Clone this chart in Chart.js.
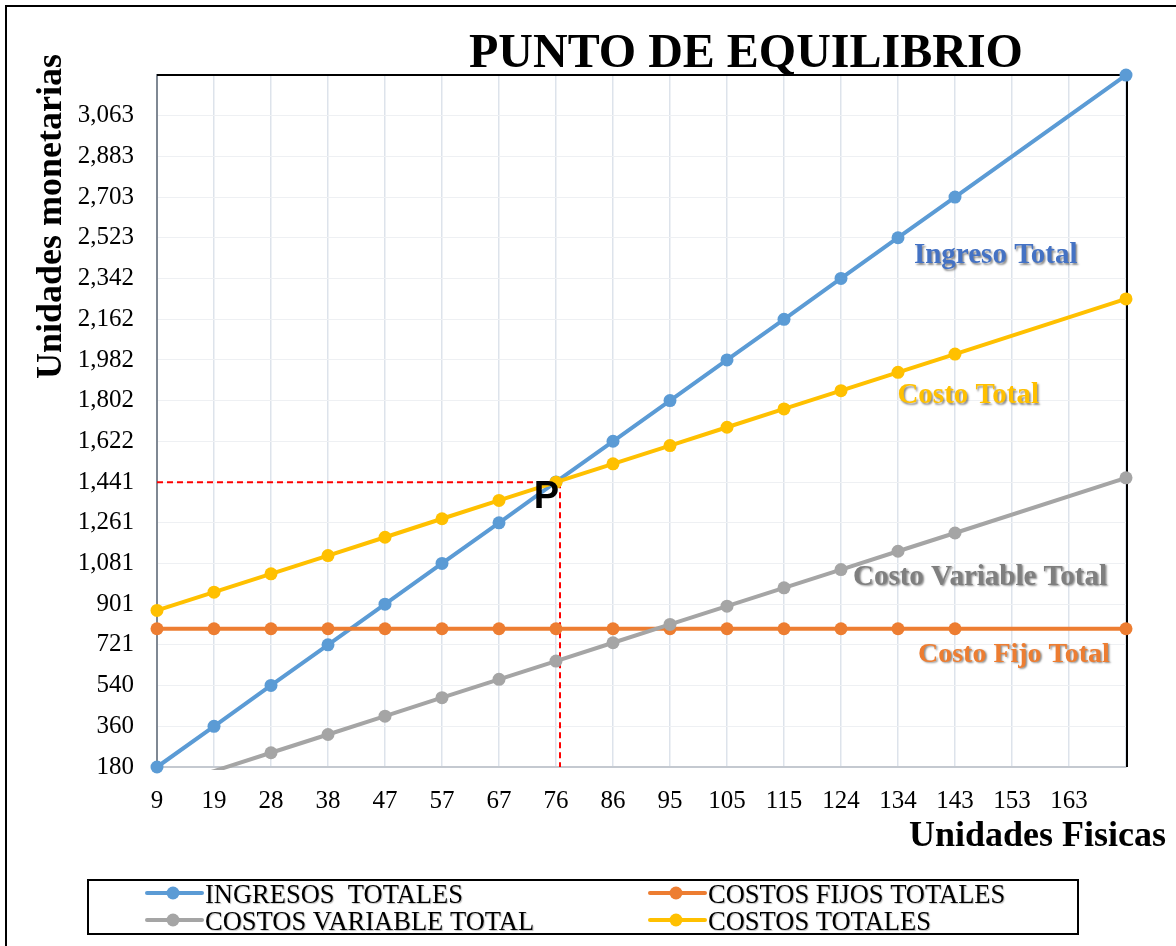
<!DOCTYPE html>
<html>
<head>
<meta charset="utf-8">
<script src="https://cdn.jsdelivr.net/npm/chart.js@4/dist/chart.umd.min.js"></script>
<style>
  html, body { margin: 0; padding: 0; background: #fff; }
  #wrap { position: relative; width: 1176px; height: 946px; overflow: hidden; background: #fff; }
  #frame { position: absolute; left: 5px; top: 5px; width: 1300px; height: 1100px;
           border-left: 2px solid #000; border-top: 2px solid #000; box-sizing: border-box; }
  canvas { position: absolute; left: 0; top: 0; }
</style>
</head>
<body>
<div id="wrap">
  <div id="frame"></div>
  <canvas id="c" width="1176" height="946"></canvas>
</div>
<script>
// ---------------- DATA ----------------
const categories = ['9','19','28','38','47','57','67','76','86','95','105','115','124','134','143','153','163','172'];
const ingresosTotales   = [180, 360, 541, 721, 901, 1081, 1261, 1442, 1622, 1802, 1982, 2162, 2343, 2523, 2703, null, null, 3243];
const costosFijos       = [792, 792, 792, 792, 792, 792, 792, 792, 792, 792, 792, 792, 792, 792, 792, null, null, 792];
const costosVariables   = [81, 162, 243, 324, 405, 487, 568, 649, 730, 811, 892, 973, 1054, 1135, 1216, null, null, 1460];
const costosTotales     = [873, 954, 1035, 1116, 1197, 1279, 1360, 1441, 1522, 1603, 1684, 1765, 1846, 1927, 2008, null, null, 2252];
const yTickLabels = ['180','360','540','721','901','1,081','1,261','1,441','1,622','1,802','1,982','2,162','2,342','2,523','2,703','2,883','3,063'];
const seriesNames = ['INGRESOS  TOTALES', 'COSTOS FIJOS TOTALES', 'COSTOS VARIABLE TOTAL', 'COSTOS TOTALES'];
const breakEvenIndex = 7;      // category "76"
const breakEvenValue = 1441;

// ---------------- AXIS CONFIG ----------------
const yAxisMin = 180, yAxisStep = 180.2, yAxisMax = 3243.4;

// ---------------- STYLE ----------------
const COLORS = { blue: '#5b9bd5', orange: '#ed7d31', gray: '#a5a5a5', yellow: '#ffc000' };
const SERIF = '"Liberation Serif", "Times New Roman", serif';

const annotations = [
  { text: 'Ingreso Total',        color: '#4472c4', idx: 13.28, val: 2411, size: 29 },
  { text: 'Costo Total',          color: '#ffc000', idx: 12.99, val: 1791, size: 29 },
  { text: 'Costo Variable Total', color: '#7f7f7f', idx: 12.21, val: 986,  size: 29 },
  { text: 'Costo Fijo Total',     color: '#ed7d31', idx: 13.35, val: 645,  size: 28 }
];

function mkDataset(label, data, color, order, clip) {
  return {
    label, data, order,
    borderColor: color, backgroundColor: color,
    pointBackgroundColor: color, pointBorderColor: color,
    borderWidth: 4, pointBorderWidth: 0,
    pointRadius: (ctx) => (ctx.raw != null && ctx.raw < yAxisMin) ? 0 : 6.5,
    tension: 0, spanGaps: true, clip
  };
}

const decor = {
  id: 'decor',
  beforeDatasetsDraw(chart) {
    const { ctx, chartArea: a, scales: { x, y } } = chart;
    ctx.save();
    // plot frame top & right
    ctx.strokeStyle = '#000'; ctx.lineWidth = 2;
    ctx.beginPath();
    ctx.moveTo(a.left, a.top); ctx.lineTo(a.right + 1, a.top); ctx.lineTo(a.right + 1, a.bottom);
    ctx.stroke();
    // equilibrium dashed lines
    const px = x.getPixelForValue(breakEvenIndex) + 4;
    const py = y.getPixelForValue(breakEvenValue);
    ctx.strokeStyle = '#ff0000'; ctx.lineWidth = 2; ctx.setLineDash([6, 4]);
    ctx.beginPath();
    ctx.moveTo(a.left, py); ctx.lineTo(px, py);
    ctx.moveTo(px, py); ctx.lineTo(px, a.bottom);
    ctx.stroke();
    ctx.restore();
  },
  afterDatasetsDraw(chart) {
    const { ctx, scales: { x, y } } = chart;
    ctx.save();
    // P label
    ctx.fillStyle = '#000';
    ctx.font = 'bold 38px "Liberation Sans", Arial, sans-serif';
    ctx.textAlign = 'right'; ctx.textBaseline = 'alphabetic';
    ctx.fillText('P', x.getPixelForValue(breakEvenIndex) + 3, y.getPixelForValue(breakEvenValue) + 26);
    // series annotations
    ctx.textAlign = 'left';
    annotations.forEach(an => {
      ctx.font = 'bold ' + an.size + 'px ' + SERIF;
      ctx.shadowColor = 'rgba(0,0,0,0.45)';
      ctx.shadowOffsetX = 1.5; ctx.shadowOffsetY = 1.5; ctx.shadowBlur = 2;
      ctx.fillStyle = an.color;
      ctx.fillText(an.text, x.getPixelForValue(an.idx), y.getPixelForValue(an.val));
    });
    ctx.restore();
  },
  afterDraw(chart) {
    const { ctx } = chart;
    ctx.save();
    ctx.fillStyle = '#000';
    // title
    ctx.font = 'bold 48px ' + SERIF;
    ctx.textAlign = 'left'; ctx.textBaseline = 'alphabetic';
    ctx.fillText('PUNTO DE EQUILIBRIO', 469, 67);
    // x axis title
    ctx.font = 'bold 36px ' + SERIF;
    ctx.textAlign = 'right';
    ctx.fillText('Unidades Fisicas', 1166, 846);
    // y axis title
    ctx.save();
    ctx.translate(61, 216.5);
    ctx.rotate(-Math.PI / 2);
    ctx.textAlign = 'center';
    ctx.fillText('Unidades monetarias', 0, 0);
    ctx.restore();
    // legend
    ctx.strokeStyle = '#000'; ctx.lineWidth = 2;
    ctx.strokeRect(88, 880, 990, 54);
    const ds = chart.data.datasets;
    const legendOrder = [0, 1, 2, 3];
    const cols = [147, 650], rows = [893, 920];
    legendOrder.forEach((di, k) => {
      const d = ds[di];
      const lx = cols[k % 2], ly = rows[Math.floor(k / 2)];
      ctx.strokeStyle = d.borderColor; ctx.lineWidth = 4; ctx.lineCap = 'round';
      ctx.beginPath(); ctx.moveTo(lx, ly); ctx.lineTo(lx + 55, ly); ctx.stroke();
      ctx.fillStyle = d.borderColor;
      ctx.beginPath(); ctx.arc(lx + 26, ly, 6.5, 0, Math.PI * 2); ctx.fill();
      ctx.save();
      ctx.fillStyle = '#000';
      ctx.shadowColor = 'rgba(0,0,0,0.25)'; ctx.shadowOffsetX = 1; ctx.shadowOffsetY = 1; ctx.shadowBlur = 1;
      ctx.font = '26.5px ' + SERIF; ctx.textAlign = 'left'; ctx.textBaseline = 'alphabetic';
      ctx.fillText(seriesNames[di], lx + 58, ly + 10);
      ctx.restore();
    });
    ctx.restore();
  }
};

const clipAll = { left: 8, top: 8, right: 8, bottom: 8 };
const clipGray = { left: 8, top: 8, right: 8, bottom: 3 };

new Chart(document.getElementById('c'), {
  type: 'line',
  data: {
    labels: categories,
    datasets: [
      mkDataset(seriesNames[0], ingresosTotales, COLORS.blue, 4, clipAll),
      mkDataset(seriesNames[1], costosFijos, COLORS.orange, 3, clipAll),
      mkDataset(seriesNames[2], costosVariables, COLORS.gray, 2, clipGray),
      mkDataset(seriesNames[3], costosTotales, COLORS.yellow, 1, clipAll)
    ]
  },
  options: {
    responsive: false, animation: false, devicePixelRatio: 1,
    layout: { padding: { left: 0, top: 75, right: 50, bottom: 0 } },
    plugins: { legend: { display: false }, title: { display: false }, tooltip: { enabled: false } },
    scales: {
      x: {
        type: 'category', offset: false,
        grid: { color: '#dde3eb', lineWidth: 1.5, drawTicks: false },
        border: { color: '#c4c9d0', width: 2 },
        ticks: {
          autoSkip: false, maxRotation: 0, padding: 19, color: '#000',
          font: { family: SERIF, size: 25 },
          callback: (v, i) => i === categories.length - 1 ? '' : categories[i]
        },
        afterFit: (s) => { s.height = 179; }
      },
      y: {
        min: yAxisMin, max: yAxisMax,
        grid: { color: '#eef0f3', lineWidth: 1, drawTicks: false },
        border: { color: '#7f8893', width: 2 },
        afterBuildTicks: (s) => {
          const t = [];
          for (let k = 0; k <= 34; k++) t.push({ value: yAxisMin + k * yAxisStep / 2 });
          s.ticks = t;
        },
        ticks: {
          padding: 23, color: '#000',
          font: { family: SERIF, size: 25 },
          callback: (v, i) => (i % 2 === 0 && yTickLabels[i / 2] !== undefined) ? yTickLabels[i / 2] : ''
        },
        afterFit: (s) => { s.width = 157; }
      }
    }
  },
  plugins: [decor]
});
</script>
</body>
</html>
